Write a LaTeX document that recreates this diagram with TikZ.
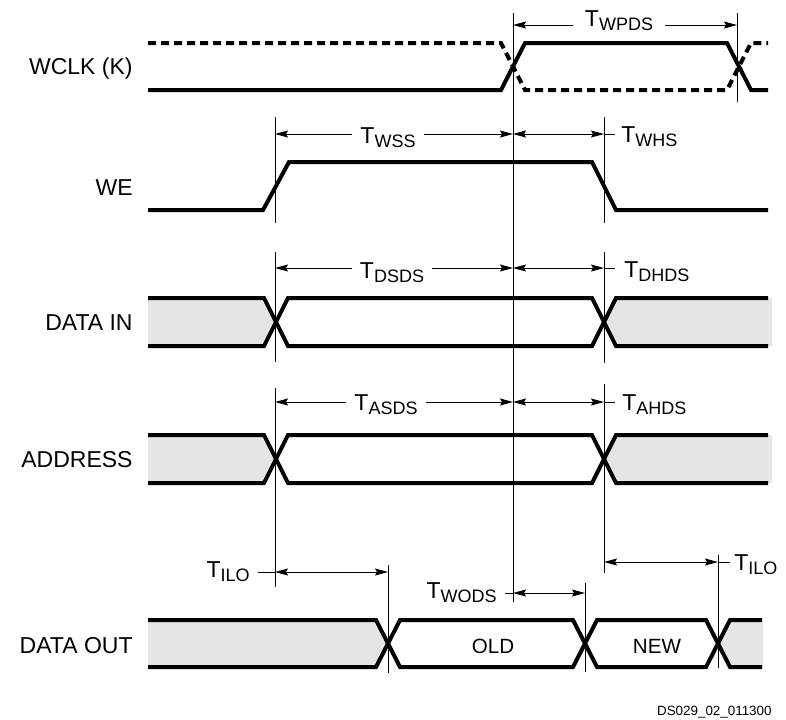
\documentclass[tikz,border=0pt]{standalone}
\usepackage{fontspec}
\setmainfont{Liberation Sans}
\usetikzlibrary{arrows.meta}
\definecolor{busgray}{gray}{0.9}
\newcommand{\tsub}[1]{T\raisebox{-2.2pt}{\fontsize{9}{9}\selectfont #1}}

\begin{document}
\begin{tikzpicture}[x=0.5pt,y=-0.5pt,
    sig/.style={line width=2pt},
    guide/.style={line width=0.5pt},
    dim/.style={line width=0.5pt,{Stealth[length=6.5pt,width=3.5pt,inset=1pt]}-{Stealth[length=6.5pt,width=3.5pt,inset=1pt]}},
    siglab/.style={anchor=base east,inner sep=0pt,font=\fontsize{11.5}{12}\selectfont},
    tlab/.style={anchor=base,inner xsep=4pt,inner ysep=1pt,fill=white,font=\fontsize{11.5}{12}\selectfont},
    tside/.style={inner sep=0pt,font=\fontsize{11.5}{12}\selectfont}]

    \useasboundingbox (0,0) rectangle (786,719);

    % signal names
    \node[siglab] (wclk) at (133,74) {WCLK (K)};
    \node[siglab] (we) at (133,195) {WE};
    \node[siglab] (din) at (133,330) {DATA IN};
    \node[siglab] (addr) at (133,467) {ADDRESS};
    \node[siglab] (dout) at (133,653) {DATA OUT};

    % bus fills
    \fill[busgray] (148,298) -- (264,298) -- (276,322) -- (264,346) -- (148,346) -- cycle;
    \fill[busgray] (604,322) -- (616,298) -- (772,298) -- (772,346) -- (616,346) -- cycle;
    \fill[busgray] (148,435) -- (264,435) -- (276,459) -- (264,483) -- (148,483) -- cycle;
    \fill[busgray] (604,459) -- (616,435) -- (772,435) -- (772,483) -- (616,483) -- cycle;
    \fill[busgray] (148,620) -- (376,620) -- (388,643) -- (376,667) -- (148,667) -- cycle;
    \fill[busgray] (718,643) -- (730,620) -- (763,620) -- (763,667) -- (730,667) -- cycle;

    % guide lines
    \draw[guide] (513,13) -- (513,602);
    \draw[guide] (737,13) -- (737,102);
    \draw[guide] (275,117) -- (275,223);
    \draw[guide] (275,252) -- (275,362);
    \draw[guide] (275,388) -- (275,587);
    \draw[guide] (604,117) -- (604,223);
    \draw[guide] (604,252) -- (604,363);
    \draw[guide] (604,384) -- (604,573);
    \draw[guide] (388,565) -- (388,673);
    \draw[guide] (585,583) -- (585,672);
    \draw[guide] (718,555) -- (718,668);

    % WCLK
    \draw[sig] (148,90) -- (501,90) -- (525,43) -- (727,43) -- (751,90) -- (768,90);
    \draw[sig,dash pattern=on 4pt off 2.5pt] (148,43) -- (501,43) -- (525,90) -- (727,90) -- (751,43) -- (768,43);

    % WE
    \draw[sig] (148,210) -- (263,210) -- (289,162) -- (592,162) -- (616,210) -- (768,210);

    % DATA IN
    \draw[sig] (148,298) -- (264,298) -- (288,346) -- (592,346) -- (616,298) -- (768,298);
    \draw[sig] (148,346) -- (264,346) -- (288,298) -- (592,298) -- (616,346) -- (768,346);

    % ADDRESS
    \draw[sig] (148,435) -- (264,435) -- (288,483) -- (592,483) -- (616,435) -- (768,435);
    \draw[sig] (148,483) -- (264,483) -- (288,435) -- (592,435) -- (616,483) -- (768,483);

    % DATA OUT
    \draw[sig] (148,620) -- (376,620) -- (400,667) -- (573,667) -- (597,620) -- (706,620) -- (730,667) -- (762,667);
    \draw[sig] (148,667) -- (376,667) -- (400,620) -- (573,620) -- (597,667) -- (706,667) -- (730,620) -- (762,620);
    \node[anchor=base,inner sep=0pt,font=\fontsize{10.3}{11}\selectfont] (old) at (493,653) {OLD};
    \node[anchor=base,inner sep=0pt,font=\fontsize{10.3}{11}\selectfont] (new) at (657,653) {NEW};

    % timing
    \draw[dim] (513,25) -- (737,25);
    \node[tlab,inner xsep=6pt] (twpds) at (619,26) {\tsub{WPDS}};

    \draw[dim] (275,134) -- (513,134);
    \node[tlab] (twss) at (388,143) {\tsub{WSS}};
    \draw[dim] (513,134) -- (604,134);
    \draw[guide] (604,134) -- (615,134);
    \node[tside,anchor=base west] (twhs) at (621,142) {\tsub{WHS}};

    \draw[dim] (275,268) -- (513,268);
    \node[tlab] (tdsds) at (392,278) {\tsub{DSDS}};
    \draw[dim] (513,268) -- (604,268);
    \draw[guide] (604,268) -- (615,268);
    \node[tside,anchor=base west] (tdhds) at (624,277) {\tsub{DHDS}};

    \draw[dim] (275,402) -- (513,402);
    \node[tlab] (tasds) at (386,410) {\tsub{ASDS}};
    \draw[dim] (513,402) -- (604,402);
    \draw[guide] (604,402) -- (615,402);
    \node[tside,anchor=base west] (tahds) at (622,410) {\tsub{AHDS}};

    \draw[guide] (258,572) -- (275,572);
    \draw[dim] (275,572) -- (388,572);
    \node[tside,anchor=base east] (tilo) at (250,577) {\tsub{ILO}};

    \draw[guide] (505,593) -- (513,593);
    \draw[dim] (513,593) -- (585,593);
    \node[tside,anchor=base east] (twods) at (497,598) {\tsub{WODS}};

    \draw[dim] (604,562) -- (718,562);
    \draw[guide] (718,562) -- (730,562);
    \node[tside,anchor=base west] (tilo2) at (734,570) {\tsub{ILO}};

    \node[anchor=base east,inner sep=0pt,font=\fontsize{6.7}{7}\selectfont] (figid) at (772,715) {DS029\_02\_011300};
\end{tikzpicture}
\end{document}
